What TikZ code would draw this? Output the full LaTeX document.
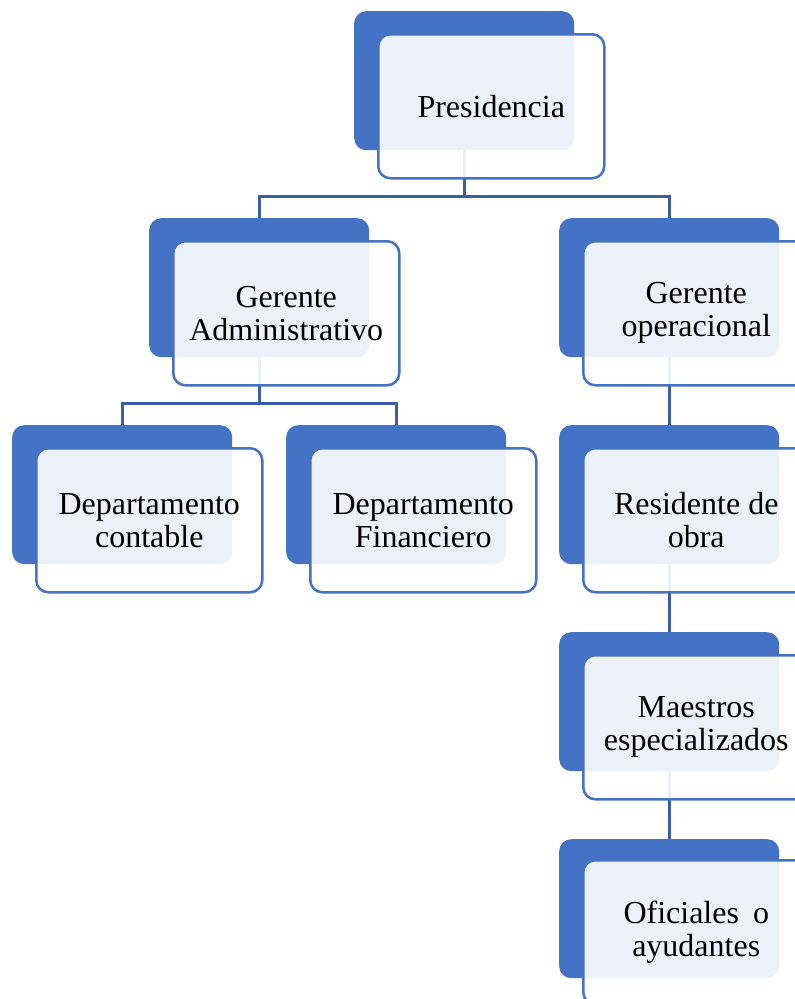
\documentclass[tikz,border=0pt]{standalone}
\usepackage{fontspec}
\setmainfont{Liberation Serif}
\definecolor{accent}{HTML}{4472C4}
\definecolor{linkcol}{HTML}{3A5DA8}
\begin{document}
\begin{tikzpicture}[x=1pt,y=1pt,
  backbox/.style={rectangle, rounded corners=12pt, fill=accent, draw=none,
    minimum width=220pt, minimum height=139pt, anchor=north west, inner sep=0pt},
  frontbox/.style={rectangle, rounded corners=12pt, draw=accent, line width=2.5pt,
    fill=white, fill opacity=0.9, text opacity=1,
    minimum width=226pt, minimum height=144pt, anchor=north west,
    align=center, inner sep=0pt,
    font=\fontsize{32}{33}\selectfont},
  link/.style={draw=linkcol, line width=2.6pt}]
\useasboundingbox (0,0) rectangle (795,-999);
\clip (0,0) rectangle (795,-999);

% back (dark) cards, placed by top-left corner
\node[backbox] (pb)  at (354,-11)  {};
\node[backbox] (gab) at (149,-218) {};
\node[backbox] (gob) at (559,-218) {};
\node[backbox] (dcb) at (12,-425)  {};
\node[backbox] (dfb) at (286,-425) {};
\node[backbox] (rob) at (559,-425) {};
\node[backbox] (meb) at (559,-632) {};
\node[backbox] (ofb) at (559,-839) {};

% connectors between the cards
\draw[link] (pb.south) -- ++(0,-46) coordinate (busA) -| (gab.north);
\draw[link] (busA) -| (gob.north);
\draw[link] (gab.south) -- ++(0,-46) coordinate (busB) -| (dcb.north);
\draw[link] (busB) -| (dfb.north);
\draw[link] (gob.south) -- (rob.north);
\draw[link] (rob.south) -- (meb.north);
\draw[link] (meb.south) -- (ofb.north);

% front (light) cards carrying the titles
\node[frontbox] (pf)  at (377,-33)  {Presidencia};
\node[frontbox] (gaf) at (172,-240) {Gerente\\Administrativo};
\node[frontbox] (gof) at (582,-240) {Gerente\\operacional};
\node[frontbox] (dcf) at (35,-447)  {Departamento\\contable};
\node[frontbox] (dff) at (309,-447) {Departamento\\Financiero};
\node[frontbox] (rof) at (582,-447) {Residente de\\obra};
\node[frontbox] (mef) at (582,-654) {Maestros\\especializados};
\node[frontbox] (off) at (582,-859) {Oficiales\hspace{14pt}o\\ayudantes};
\end{tikzpicture}
\end{document}
